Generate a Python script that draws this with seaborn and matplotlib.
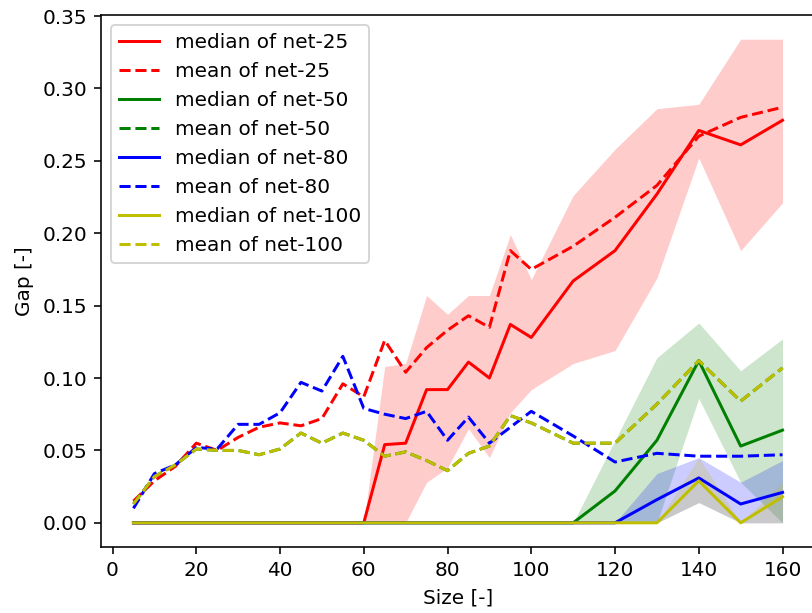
import numpy as np
import matplotlib
matplotlib.use('Agg')
import matplotlib.pyplot as plt
import seaborn as sns

#Data
size = [5, 10, 15, 20, 25, 30, 35, 40, 45, 50, 55, 60, 65, 70, 75, 80, 85, 90, 95, 100,
        110, 120, 130, 140, 150, 160]

#net-25
median_25 = [0, 0, 0, 0, 0, 0, 0, 0, 0, 0, 0, 0, 0.054, 0.055, 0.092, 0.092, 0.111, 0.100, 0.137, 0.128,
             0.167, 0.188, 0.227, 0.271, 0.261, 0.278]
mean_25 = [0.015, 0.029, 0.039, 0.055, 0.050, 0.059, 0.066, 0.069, 0.067, 0.072, 0.096, 0.087, 0.126, 0.104,
           0.121, 0.133, 0.143, 0.135, 0.188, 0.175, 0.191, 0.211, 0.233, 0.267, 0.280, 0.287]
low_25 = [0, 0, 0, 0, 0, 0, 0, 0, 0, 0, 0, 0, 0, 0, 0.028, 0.038, 0.065, 0.045, 0.076, 0.092,
          0.110, 0.119, 0.169, 0.252, 0.188, 0.221]
high_25 = [0, 0, 0, 0, 0, 0, 0, 0, 0, 0, 0, 0, 0.108, 0.110, 0.157, 0.144, 0.157, 0.157, 0.199, 0.168,
           0.226, 0.258, 0.286, 0.289, 0.334, 0.334]

#net-50
median_50 = [0, 0, 0, 0, 0, 0, 0, 0, 0, 0, 0, 0, 0, 0, 0, 0, 0, 0, 0, 0,
             0, 0.022, 0.057, 0.112, 0.053, 0.064]
mean_50 = [0.013, 0.032, 0.040, 0.051, 0.050, 0.050, 0.047, 0.051, 0.062, 0.055, 0.062, 0.057, 0.046, 0.049,
           0.043, 0.036, 0.048, 0.053, 0.074, 0.069, 0.055, 0.055, 0.082, 0.112, 0.084, 0.107]
low_50 = [0, 0, 0, 0, 0, 0, 0, 0, 0, 0, 0, 0, 0, 0, 0, 0, 0, 0, 0, 0,
          0, 0, 0, 0.086, 0.028, 0]
high_50 = [0, 0, 0, 0, 0, 0, 0, 0, 0, 0, 0, 0, 0, 0, 0, 0, 0, 0, 0, 0,
           0, 0.057, 0.114, 0.138, 0.105, 0.127]

#net-80
median_80 = [0, 0, 0, 0, 0, 0, 0, 0, 0, 0, 0, 0, 0, 0, 0, 0, 0, 0, 0, 0,
             0, 0, 0.016, 0.031, 0.013, 0.021]
mean_80 = [0.010, 0.034, 0.040, 0.052, 0.051, 0.068, 0.068, 0.076, 0.097, 0.091, 0.115, 0.079, 0.075, 0.072,
           0.077, 0.057, 0.073, 0.055, 0.066, 0.077, 0.060, 0.042, 0.048, 0.046, 0.046, 0.047]
low_80 = [0, 0, 0, 0, 0, 0, 0, 0, 0, 0, 0, 0, 0, 0, 0, 0, 0, 0, 0, 0,
          0, 0, 0, 0.014, 0, 0]
high_80 = [0, 0, 0, 0, 0, 0, 0, 0, 0, 0, 0, 0, 0, 0, 0, 0, 0, 0, 0, 0,
           0, 0, 0.034, 0.045, 0.028, 0.043]

#net-100
median_100 = [0, 0, 0, 0, 0, 0, 0, 0, 0, 0, 0, 0, 0, 0, 0, 0, 0, 0, 0, 0,
              0, 0, 0, 0.029, 0, 0.018]
mean_100 = [0.013, 0.032, 0.040, 0.051, 0.050, 0.050, 0.047, 0.051, 0.062, 0.055, 0.062, 0.057, 0.046, 0.049,
            0.043, 0.036, 0.048, 0.053, 0.074, 0.069, 0.055, 0.055, 0.082, 0.112, 0.084, 0.107]
low_100 = [0, 0, 0, 0, 0, 0, 0, 0, 0, 0, 0, 0, 0, 0, 0, 0, 0, 0, 0, 0,
           0, 0, 0, 0.014, 0, 0]
high_100 = [0, 0, 0, 0, 0, 0, 0, 0, 0, 0, 0, 0, 0, 0, 0, 0, 0, 0, 0, 0,
            0, 0, 0, 0.045, 0, 0.028]

nets = ['net-25', 'net-50', 'net-80', 'net-100']
colors = ['r', 'g', 'b', 'y']
medians = [median_25, median_50, median_80, median_100]
means = [mean_25, mean_50, mean_80, mean_100]
lows = [low_25, low_50, low_80, low_100]
highs = [high_25, high_50, high_80, high_100]

#Figure (right spine falls just outside the picture like in the original)
fig = plt.figure(figsize=(812 / 144, 613 / 144), dpi=144)
ax = fig.add_axes([101 / 812, 66 / 613, 714 / 812, 532 / 613])

#Plot median, mean and spread of every net
for name, c, med, mn, lo, hi in zip(nets, colors, medians, means, lows, highs):
    sns.lineplot(x=size, y=med, color=c, label='median of ' + name, ax=ax)
    sns.lineplot(x=size, y=mn, color=c, linestyle='--', label='mean of ' + name, ax=ax)
    ax.fill_between(size, lo, hi, color=c, alpha=0.2, linewidth=0)

ax.set_xlabel('Size [-]')
ax.set_ylabel('Gap [-]')
ax.set_xticks([0, 20, 40, 60, 80, 100, 120, 140, 160])
ax.legend(loc='upper left')

fig.savefig('out.png', dpi=144)
